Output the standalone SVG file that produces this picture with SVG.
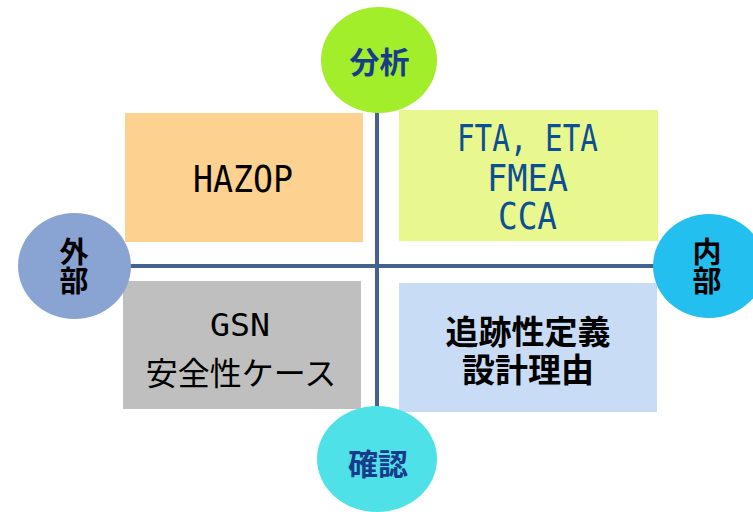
<svg xmlns="http://www.w3.org/2000/svg" width="753" height="512" viewBox="0 0 753 512">
<style>
.line{stroke:#44618f;stroke-width:4;fill:none}
.mono{font-family:"DejaVu Sans Mono","Liberation Mono",monospace;text-anchor:middle}
.cjk{font-family:"Noto Sans CJK JP","Noto Sans",sans-serif;text-anchor:middle}
.circ{font-family:"Noto Sans CJK JP","Noto Sans",sans-serif;text-anchor:middle;font-weight:bold}
.vert{font-family:"Noto Sans CJK JP","Noto Sans",sans-serif;font-weight:bold;writing-mode:vertical-rl;text-orientation:upright}
</style>
<rect width="753" height="512" fill="#ffffff"/>
<g id="connectors">
<line class="line" x1="377" y1="110" x2="377" y2="408"/>
<line class="line" x1="128" y1="266" x2="656" y2="266"/>
</g>
<g id="hazop">
<rect x="125" y="113" width="238" height="129" fill="#fdd18f"/>
<text class="mono" x="243" y="192" font-size="37" textLength="100" lengthAdjust="spacingAndGlyphs" fill="#000">HAZOP</text>
</g>
<g id="fta">
<rect x="399" y="110" width="259" height="131" fill="#e8f88e"/>
<text class="mono" font-size="37" fill="#0d4f94"><tspan x="527.5" y="151" textLength="141" lengthAdjust="spacingAndGlyphs">FTA, ETA</tspan><tspan x="527.5" y="191" textLength="81" lengthAdjust="spacingAndGlyphs">FMEA</tspan><tspan x="527.5" y="229" textLength="59" lengthAdjust="spacingAndGlyphs">CCA</tspan></text>
</g>
<g id="gsn">
<rect x="123" y="281" width="238" height="128" fill="#bfbfbf"/>
<text class="mono" x="240" y="336" font-size="32" textLength="60" lengthAdjust="spacingAndGlyphs" fill="#000">GSN</text>
<text class="cjk" x="241" y="385" font-size="32" fill="#000">安全性ケース</text>
</g>
<g id="trace">
<rect x="399" y="283" width="258" height="129" fill="#c9dcf5"/>
<text class="cjk" font-size="33" font-weight="bold" fill="#000"><tspan x="528" y="343.5">追跡性定義</tspan><tspan x="528" y="381.5">設計理由</tspan></text>
</g>
<g id="analysis">
<ellipse cx="379" cy="60" rx="58" ry="53" fill="#a3ee2b"/>
<text class="circ" x="379.5" y="73" font-size="30" fill="#183c8c">分析</text>
</g>
<g id="external">
<ellipse cx="74.5" cy="266" rx="56.5" ry="53" fill="#89a3d3"/>
<text class="vert" x="74" y="237" font-size="29" fill="#000">外部</text>
</g>
<g id="internal">
<ellipse cx="709" cy="266" rx="56" ry="52" fill="#23bfee"/>
<text class="vert" x="707" y="237" font-size="29" fill="#000">内部</text>
</g>
<g id="confirm">
<ellipse cx="377" cy="459" rx="60" ry="53" fill="#4ee1e8"/>
<text class="circ" x="378" y="475" font-size="30" fill="#183c8c">確認</text>
</g>
</svg>
